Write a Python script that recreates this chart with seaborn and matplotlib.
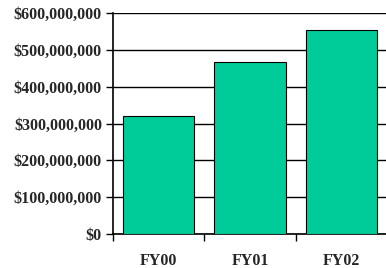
import pandas as pd
import numpy as np
import matplotlib.pyplot as plt
import matplotlib
import seaborn as sns
from matplotlib.ticker import FuncFormatter, FixedLocator

years = ['FY00', 'FY01', 'FY02']
amounts = [320000000, 466000000, 553000000]
yticks = [0, 100000000, 200000000, 300000000, 400000000, 500000000, 600000000]

sns.set_style('white')
matplotlib.rc('font', family='Liberation Serif', weight='bold', size=11.5)

df = pd.DataFrame({'year': years, 'amount': amounts})

fig = plt.figure(figsize=(3.86, 2.68), dpi=100)
ax = fig.add_axes([113/386, 1-234/268, 274/386, 221/268])
sns.barplot(data=df, x='year', y='amount', color='#00CC99', saturation=1,
            edgecolor='black', linewidth=0.8, width=0.78, ax=ax, zorder=3)

ax.set_ylim(0, 600000000)
ax.set_xlim(-0.5, 2.5)
ax.set_yticks(yticks)
ax.yaxis.set_major_formatter(FuncFormatter(lambda v, p: '${:,.0f}'.format(v)))
ax.yaxis.grid(True, color='black', linewidth=1, zorder=0)
ax.set_axisbelow(True)
ax.set_xlabel('')
ax.set_ylabel('')

for s in ['top', 'right']:
    ax.spines[s].set_visible(False)
for s in ['left', 'bottom']:
    ax.spines[s].set_color('black')
    ax.spines[s].set_linewidth(1.2)

ax.tick_params(axis='y', which='major', left=True, length=5, width=1, color='black', pad=3)
ax.tick_params(axis='x', which='major', bottom=False, pad=10)
ax.xaxis.set_minor_locator(FixedLocator([-0.5, 0.5, 1.5]))
ax.tick_params(axis='x', which='minor', bottom=True, length=5, width=1, color='black')
for lbl in ax.get_xticklabels() + ax.get_yticklabels():
    lbl.set_fontweight('bold')

plt.savefig('out.png', dpi=100)
